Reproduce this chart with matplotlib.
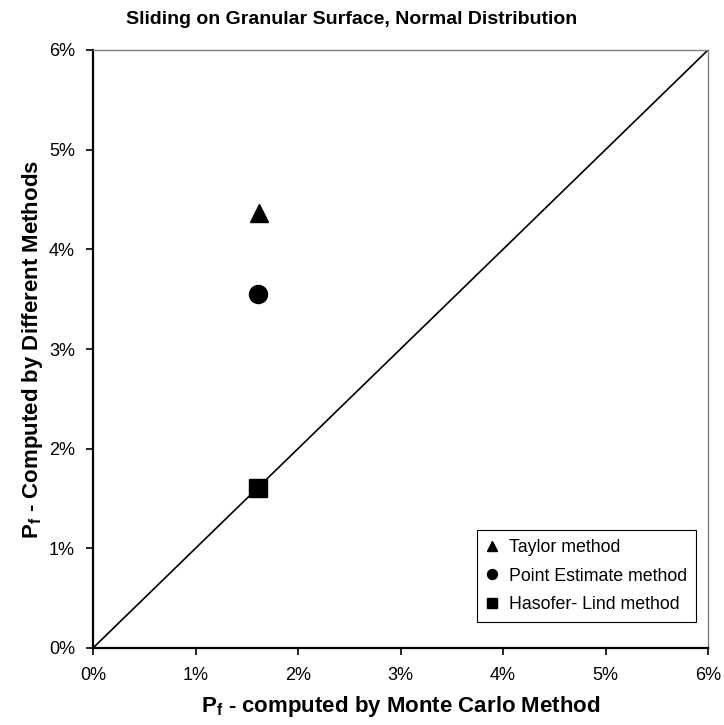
import matplotlib
matplotlib.use("Agg")
import matplotlib.pyplot as plt
from matplotlib.ticker import FuncFormatter

plt.rcParams['font.family'] = ['Liberation Sans', 'DejaVu Sans']
plt.rcParams['mathtext.fontset'] = 'custom'
plt.rcParams['mathtext.rm'] = 'Liberation Sans'
plt.rcParams['mathtext.bf'] = 'Liberation Sans:bold'

# Pf values in percent
methods = ["Taylor method", "Point Estimate method", "Hasofer- Lind method"]
monte_carlo = [1.62, 1.61, 1.61]
computed = [4.36, 3.55, 1.61]
markers = ["^", "o", "s"]

axis_ticks = [0, 1, 2, 3, 4, 5, 6]

fig = plt.figure(figsize=(7.24, 7.25), dpi=100)
ax = fig.add_axes([93 / 724, 1 - 648 / 725, 615 / 724, 598 / 725])

# 1:1 line
ax.plot([0, 6], [0, 6], color="black", lw=1.2, zorder=2)

for m, x, y, mk in zip(methods, monte_carlo, computed, markers):
    ax.plot(x, y, linestyle="none", marker=mk, color="black", markersize=13,
            label=m, zorder=3)

ax.set_xlim(0, 6)
ax.set_ylim(0, 6)
ax.set_xticks(axis_ticks)
ax.set_yticks(axis_ticks)
pct = FuncFormatter(lambda v, p: f"{v:.0f}%")
ax.xaxis.set_major_formatter(pct)
ax.yaxis.set_major_formatter(pct)
ax.tick_params(direction="out", length=5, width=1.2, labelsize=13, colors="black")
ax.tick_params(axis="x", pad=9)
ax.tick_params(axis="y", pad=8)

for s in ["left", "bottom"]:
    ax.spines[s].set_linewidth(1.6)
    ax.spines[s].set_color("black")
for s in ["top", "right"]:
    ax.spines[s].set_linewidth(1.0)
    ax.spines[s].set_color("#808080")

fig.text(352 / 724, 1 - 19 / 725, "Sliding on Granular Surface, Normal Distribution",
         fontsize=14, fontweight="bold", ha="center", va="center")
ax.set_xlabel(r"P$_\mathbf{f}$ - computed by Monte Carlo Method",
              fontsize=16, fontweight="bold", labelpad=7)
ax.set_ylabel(r"P$_\mathbf{f}$ - Computed by Different Methods",
              fontsize=16, fontweight="bold", labelpad=3)

leg = ax.legend(loc="lower right", bbox_to_anchor=(0.9805, 0.0435), fontsize=12.8,
                markerscale=0.55, handlelength=0.7, handletextpad=0.6,
                borderpad=0.5, labelspacing=0.65, borderaxespad=0,
                fancybox=False, framealpha=1)
leg.get_frame().set_edgecolor("black")
leg.get_frame().set_linewidth(0.8)

fig.savefig("out.png", dpi=100)
